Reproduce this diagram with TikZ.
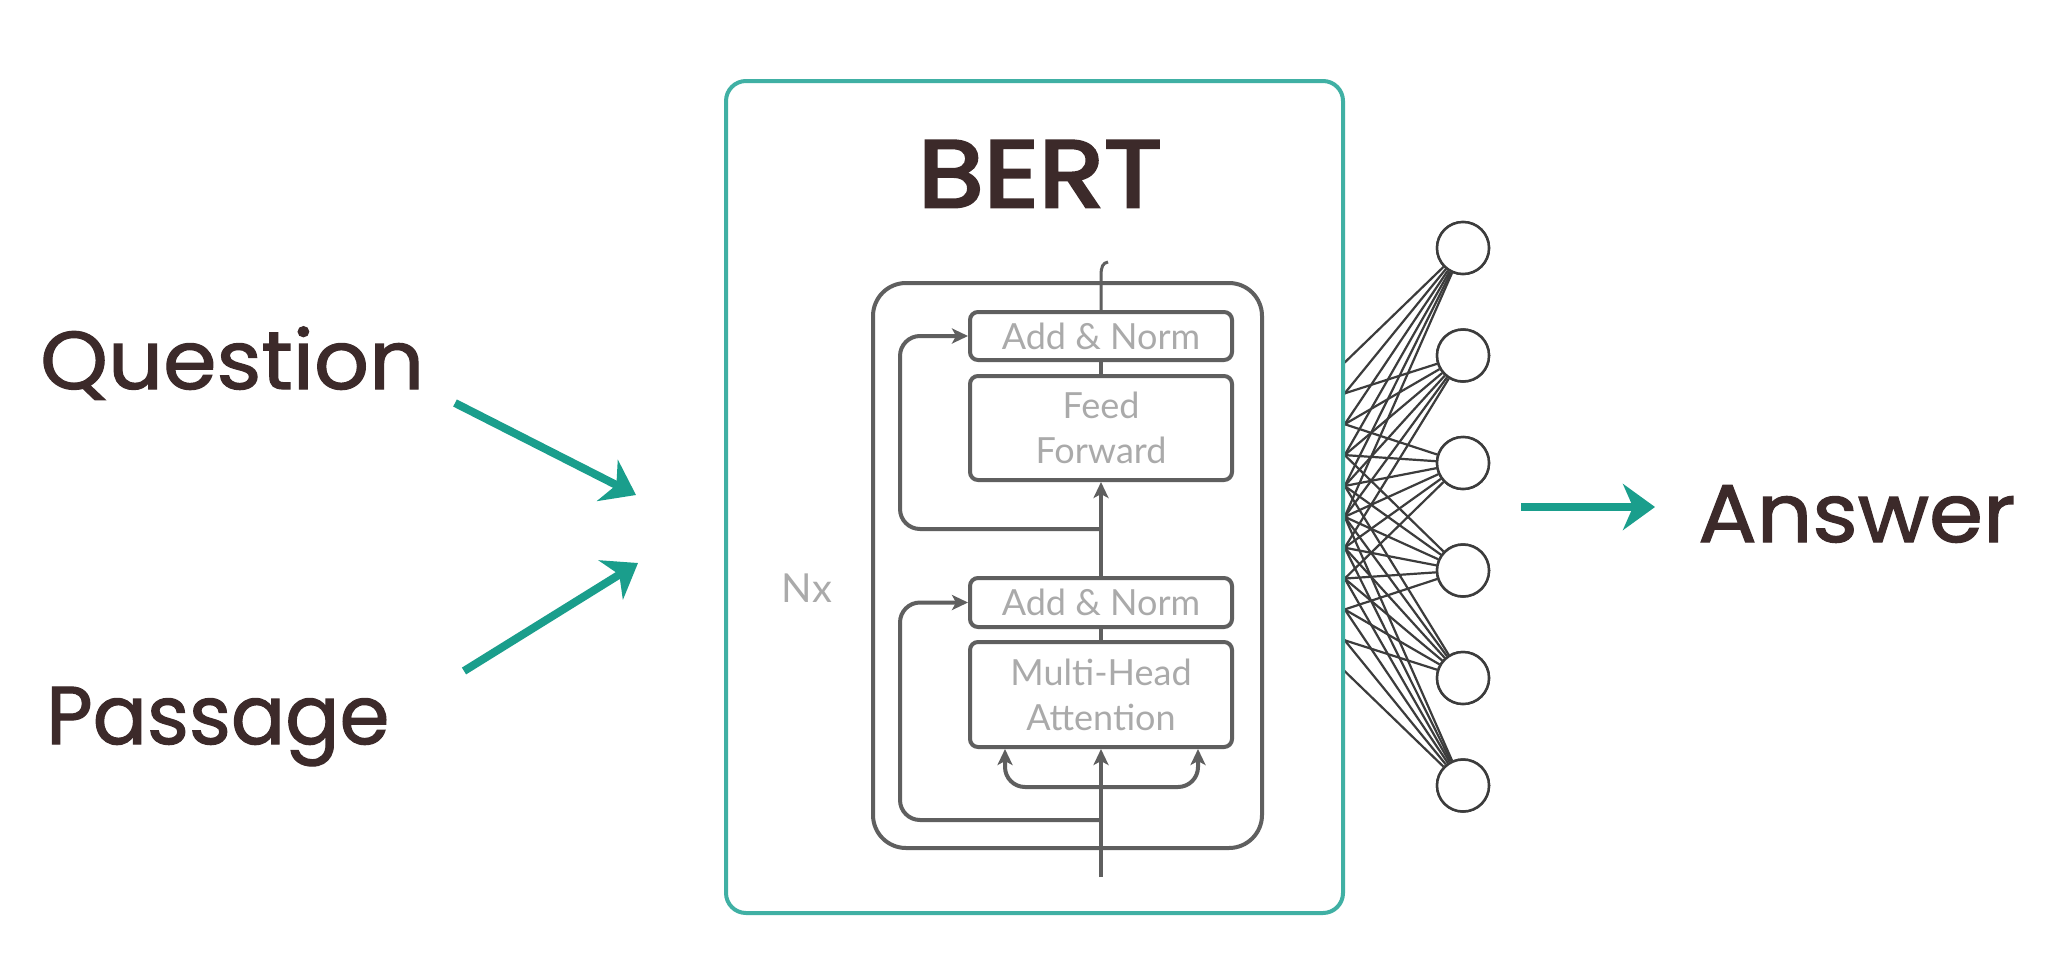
\documentclass[tikz,border=0pt]{standalone}
\usepackage{fontspec}
\setmainfont{Poppins}
\newfontfamily\lblfont{Poppins}[FakeBold=1.4]
\newfontfamily\bertfont{Poppins}[FakeBold=3]
\newfontfamily\innerfont{Lato}
\usetikzlibrary{arrows.meta}
\definecolor{tealbox}{RGB}{64,176,164}
\definecolor{tealarr}{RGB}{26,158,140}
\definecolor{darktxt}{RGB}{60,42,42}
\definecolor{gline}{RGB}{95,95,95}
\definecolor{gtext}{RGB}{170,170,170}
\definecolor{nnline}{RGB}{60,60,60}
\begin{document}
\begin{tikzpicture}[x=1pt,y=-1pt,
  lbl/.style={text=darktxt, inner sep=0pt, font=\lblfont\fontsize{82}{82}\selectfont},
  blk/.style={draw=gline, line width=4pt, rounded corners=8pt, minimum width=262pt, inner sep=0pt, text=gtext, font=\innerfont\fontsize{36}{45}\selectfont, align=center},
  gl/.style={draw=gline, line width=4pt},
  garrow/.style={gl, -{Stealth[length=16pt,width=15pt,inset=4pt]}},
  tarrow/.style={draw=tealarr, line width=8pt, -{Stealth[length=32pt,width=46pt,inset=10pt]}},
  neuron/.style={circle, draw=nnline, line width=2.5pt, minimum size=52pt, inner sep=0pt, fill=white},
  nnedge/.style={draw=nnline, line width=2.2pt},
]
\useasboundingbox[fill=white] (0,0) rectangle (2050,953);

% output neurons and hidden input points
\foreach \i/\y in {1/248,2/355.5,3/463,4/570.5,5/678,6/785.5}{
  \node[neuron] (o\i) at (1463,\y) {};
}
\foreach \j in {1,...,6}{
  \coordinate (in\j) at (1297,{408.6+43.3*(\j-1)});
}
\foreach \i in {1,...,6}{
  \foreach \j in {1,...,6}{
    \draw[nnedge] (in\j) -- (o\i);
  }
}
\foreach \i in {1,...,6}{
  \node[neuron] at (o\i) {};
}

% BERT box
\node[draw=tealbox, line width=4pt, rounded corners=20pt, fill=white, minimum width=617pt, minimum height=832pt, inner sep=0pt] (bert) at (1034.5,497) {};
\node[text=darktxt, inner sep=0pt, anchor=base, font=\bertfont\fontsize{95}{95}\selectfont] (berttitle) at (1040,207) {\scalebox{1.13}[1]{BERT}};

% encoder block
\node[draw=gline, line width=4pt, rounded corners=33pt, minimum width=389pt, minimum height=565pt, inner sep=0pt] (enc) at (1067.5,565.5) {};
\node[blk, minimum height=48pt] (an2) at (1101,336) {Add \& Norm};
\node[blk, minimum height=104pt] (ff) at (1101,428) {Feed\\Forward};
\node[blk, minimum height=49pt] (an1) at (1101,602.5) {Add \& Norm};
\node[blk, minimum height=105pt] (mha) at (1101,694.5) {Multi-Head\\Attention};
\node[text=gtext, inner sep=0pt, font=\innerfont\fontsize{40}{40}\selectfont] (nx) at (807,588) {Nx};

\coordinate (inp) at (1101,877);
\coordinate (fork) at (1101,787);
\coordinate (res1) at (1101,820);
\coordinate (res2) at (1101,529);
\coordinate (stub) at (1108,262);
\coordinate (fl) at (1005,749);
\coordinate (fr) at (1198,749);

\draw[garrow] (inp) -- (mha.south);
\draw[gl] (mha.north) -- (an1.south);
\draw[garrow] (an1.north) -- (ff.south);
\draw[gl] (ff.north) -- (an2.south);
\draw[gl, line width=3pt] (an2.north) -- (1101,276) .. controls (1101,266) and (1103,263) .. (stub);
\draw[garrow, rounded corners=20pt] (res1) -- (900,820) -- (900,602.5) -- (an1.west);
\draw[garrow, rounded corners=20pt] (res2) -- (900,529) -- (900,336) -- (an2.west);
\draw[garrow, rounded corners=20pt] (fork) -- (1005,787) -- (fl);
\draw[garrow, rounded corners=20pt] (fork) -- (1198,787) -- (fr);

% labels
\node[lbl, anchor=base west] (question) at (40,389) {\scalebox{1.05}[1]{Question}};
\node[lbl, anchor=base west] (passage) at (46,744) {\scalebox{0.98}[1]{Passage}};
\node[lbl, anchor=base west] (answer) at (1698,542) {\scalebox{1.06}[1]{Answer}};

\coordinate (qs) at (455,403);
\coordinate (qe) at (636,495);
\coordinate (ps) at (464,671);
\coordinate (pe) at (638,563);
\coordinate (as) at (1521,507);
\coordinate (ae) at (1655,507);
\draw[tarrow] (qs) -- (qe);
\draw[tarrow] (ps) -- (pe);
\draw[tarrow] (as) -- (ae);
\end{tikzpicture}
\end{document}
